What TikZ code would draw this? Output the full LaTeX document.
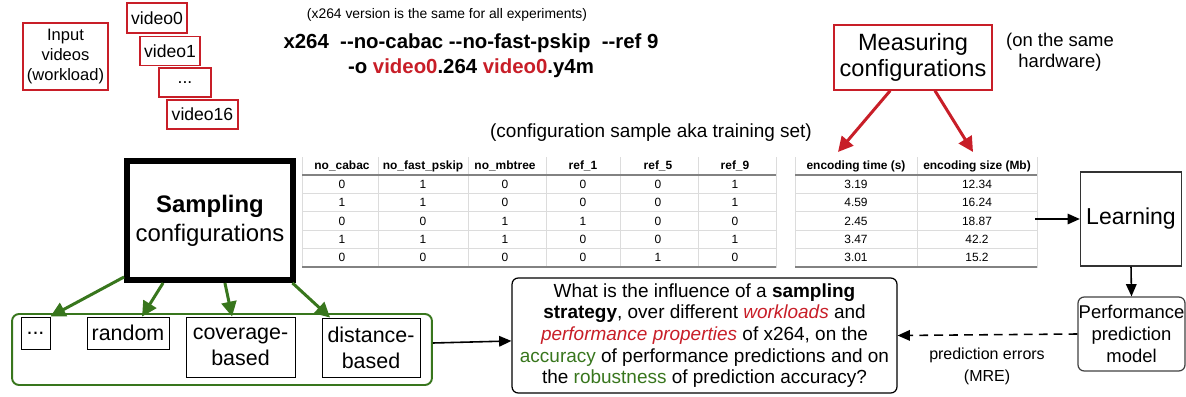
\documentclass[tikz,border=0pt]{standalone}
\usepackage{fontspec}
\setmainfont{Liberation Sans}
\newfontfamily\cmdfont{Liberation Sans}
\usetikzlibrary{arrows.meta}

\definecolor{vidred}{RGB}{200,30,40}
\definecolor{sampgreen}{RGB}{56,118,29}
\definecolor{gridgray}{RGB}{220,220,220}
\definecolor{rulegray}{RGB}{130,130,130}
\newcommand{\setfs}[2]{\fontsize{#1}{#2}\selectfont}

\begin{document}
\begin{tikzpicture}[x=0.02cm,y=-0.02cm,>={Triangle[length=7pt,width=6pt]},
    redbox/.style={draw=vidred,line width=0.8pt,inner sep=0pt,align=center},
    plainbox/.style={draw,line width=0.5pt,inner sep=0pt,align=center},
    roundbox/.style={draw,line width=0.7pt,rounded corners=3.5pt,inner sep=0pt,align=center},
    greenarrow/.style={draw=sampgreen,line width=1.7pt,-{Triangle[length=8.5pt,width=8.5pt]}},
    redarrow/.style={draw=vidred,line width=1.7pt,-{Triangle[length=8.5pt,width=8.5pt]}},
    cell/.style={inner sep=0pt,font=\setfs{6.8}{8}},
    hcell/.style={inner sep=0pt,font=\setfs{6.8}{8}\bfseries}]
    \useasboundingbox (0,0) rectangle (1186,396);

    % input videos
    \node[redbox,minimum width=1.70cm,minimum height=1.34cm,font=\setfs{9.4}{11.4}] (input) at (65.5,56.5) {Input\\videos\\(workload)};
    \node[redbox,minimum width=1.20cm,minimum height=0.60cm,font=\setfs{10}{12}] (vid0) at (157,18) {video0};
    \node[redbox,minimum width=1.20cm,minimum height=0.58cm,font=\setfs{10}{12}] (vid1) at (170,51) {video1};
    \node[redbox,minimum width=1.04cm,minimum height=0.58cm,font=\setfs{10}{12}] (viddots) at (185,82.5) {...};
    \node[redbox,minimum width=1.42cm,minimum height=0.58cm,font=\setfs{10}{12}] (vid16) at (202.5,114.5) {video16};

    % the x264 command line
    \node[font=\setfs{7.9}{9}] (note) at (447,15) {(x264 version is the same for all experiments)};
    \node[font=\cmdfont\bfseries\setfs{11.6}{14.2},align=center] (cmd) at (471,55.5)
        {x264\ \ --no-cabac --no-fast-pskip\ \ --ref 9\\-o \textcolor{vidred}{video0}.264 \textcolor{vidred}{video0}.y4m};

    % measuring
    \node[redbox,minimum width=3.16cm,minimum height=1.30cm,font=\setfs{13.4}{15.2}] (meas) at (913,57.5) {Measuring\\configurations};
    \node[font=\setfs{10.5}{12},align=center] (hw) at (1060,52.5) {(on the same\\hardware)};
    \node[font=\setfs{10.8}{13}] (trainset) at (651,133) {(configuration sample aka training set)};

    % table of sampled configurations
    \foreach \xa in {302,378,468,546,620,698,776}
        \draw[gridgray,line width=0.5pt] (\xa,157) -- (\xa,268);
    \foreach \k in {1,...,4}
        \draw[gridgray,line width=0.5pt] (302,{175+18.4*\k}) -- (776,{175+18.4*\k});
    \draw[rulegray,line width=1pt] (302,175) -- (776,175);
    \draw[rulegray,line width=1pt] (302,267) -- (776,267);
    \foreach \xa/\head/\vals [count=\c] in {342/no\_cabac/{0,1,0,1,0},
                                             423/no\_fast\_pskip/{1,1,0,1,0},
                                             505/no\_mbtree/{0,0,1,1,0},
                                             583/ref\_1/{0,0,1,0,0},
                                             658/ref\_5/{0,0,0,0,1},
                                             735/ref\_9/{1,1,0,1,0}} {
        \node[hcell] (cfghead-\c) at (\xa,166) {\head};
        \foreach \v [count=\r] in \vals
            \node[cell] (cfg-\r-\c) at (\xa,{175+18.4*(\r-0.5)}) {\v};
    }

    % table of measured performances
    \foreach \xa in {795,917,1037}
        \draw[gridgray,line width=0.5pt] (\xa,157) -- (\xa,268);
    \foreach \k in {1,...,4}
        \draw[gridgray,line width=0.5pt] (795,{175+18.4*\k}) -- (1037,{175+18.4*\k});
    \draw[rulegray,line width=1pt] (795,175) -- (1037,175);
    \draw[rulegray,line width=1pt] (795,267) -- (1037,267);
    \foreach \xa/\head/\vals [count=\c] in {856/encoding time (s)/{3.19,4.59,2.45,3.47,3.01},
                                             977/encoding size (Mb)/{12.34,16.24,18.87,42.2,15.2}} {
        \node[hcell] (perfhead-\c) at (\xa,166) {\head};
        \foreach \v [count=\r] in \vals
            \node[cell] (perf-\r-\c) at (\xa,{175+18.4*(\r-0.5)}) {\v};
    }

    % sampling
    \node[draw,line width=3.4pt,minimum width=3.32cm,minimum height=2.38cm,inner sep=0pt,align=center,font=\setfs{13.6}{16.5}] (samp) at (210,220.5) {\textbf{Sampling}\\configurations};

    % sampling strategies
    \node[draw=sampgreen,line width=1.1pt,rounded corners=4pt,minimum width=8.4cm,minimum height=1.42cm] (strat) at (222,349.5) {};
    \node[plainbox,minimum width=0.58cm,minimum height=0.64cm,font=\setfs{12.2}{14.8}] (sdots) at (35.5,333) {...};
    \node[plainbox,minimum width=1.64cm,minimum height=0.64cm,font=\setfs{12.2}{14.8}] (srand) at (128,333) {random};
    \node[plainbox,minimum width=2.18cm,minimum height=1.20cm,font=\setfs{12.2}{14.8}] (scov) at (240.5,347) {coverage-\\based};
    \node[plainbox,minimum width=1.96cm,minimum height=1.18cm,font=\setfs{12.2}{14.8}] (sdist) at (371,347.5) {distance-\\based};

    % research question
    \node[roundbox,minimum width=7.7cm,minimum height=2.3cm,font=\setfs{10.8}{12.3}] (quest) at (704.5,335.5)
        {What is the influence of a \textbf{sampling}\\
         \textbf{strategy}, over different \textcolor{vidred}{\textit{workloads}} and\\
         \textcolor{vidred}{\textit{performance properties}} of x264, on the\\
         \textcolor{sampgreen}{accuracy} of performance predictions and on\\
         the \textcolor{sampgreen}{robustness} of prediction accuracy?};

    % learning and model
    \node[draw=black!80,line width=0.6pt,minimum width=1.96cm,minimum height=1.88cm,font=\setfs{13.1}{15}] (learn) at (1131,219) {Learning};
    \node[roundbox,draw=black!75,minimum width=2.14cm,minimum height=1.48cm,font=\setfs{10.5}{12.5}] (perf) at (1131.5,334) {Performance\\prediction\\model};
    \node[font=\setfs{9.1}{12.5},align=center] (mre) at (987,366) {prediction errors\\(MRE)};

    % arrows
    \coordinate (timehead) at (838,152);
    \coordinate (sizehead) at (973,152);
    \coordinate (tabout) at (1035,219);
    \draw[redarrow] ([xshift=-13pt]meas.south) -- (timehead);
    \draw[redarrow] ([xshift=12.5pt]meas.south) -- (sizehead);
    \draw[->,line width=0.9pt] (tabout) -- (learn.west);
    \draw[->,line width=0.9pt] (learn.south) -- (perf.north);
    \draw[->,line width=0.9pt,dash pattern=on 5pt off 3.5pt] (perf.west) -- (quest.east);
    \draw[->,line width=0.9pt] ([yshift=3.7pt]strat.east) -- ([yshift=-3.1pt]quest.west);

    \draw[greenarrow] ([yshift=3.4pt]samp.south west) -- (sdots.north east);
    \draw[greenarrow] ([xshift=-26.7pt]samp.south) -- ([xshift=8pt]srand.north);
    \draw[greenarrow] ([xshift=8.5pt]samp.south) -- ([xshift=-4.8pt]scov.north);
    \draw[greenarrow] ([xshift=-2pt]samp.south east) -- ([xshift=-23.3pt]sdist.north);
\end{tikzpicture}
\end{document}
